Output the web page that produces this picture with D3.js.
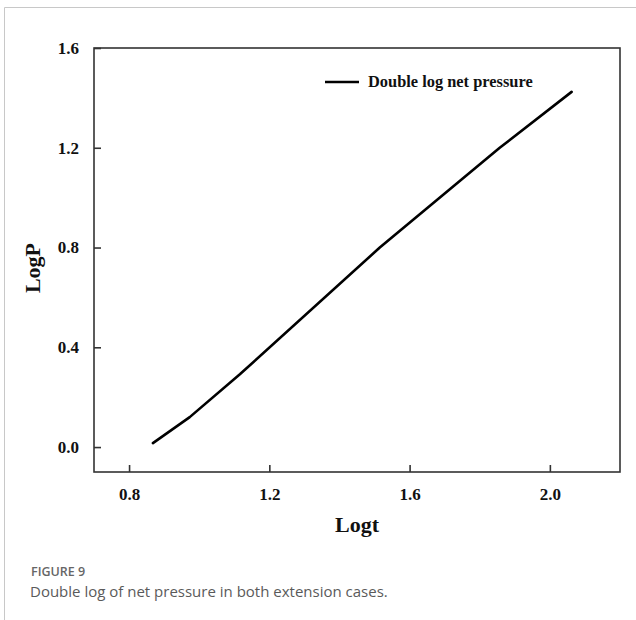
<!DOCTYPE html>
<html>
<head>
<meta charset="utf-8">
<script src="https://cdn.jsdelivr.net/npm/d3@7"></script>
<style>
  html, body { margin: 0; padding: 0; background: #fff; }
  svg { display: block; }
</style>
</head>
<body>
<script>
// Double-log net pressure curve: log10(t) against log10(P)
const logT = [0.868, 0.973, 1.116, 1.515, 1.857, 2.062];
const logP = [0.016, 0.120, 0.292, 0.800, 1.200, 1.424];
const xTicks = [0.8, 1.2, 1.6, 2.0];
const yTicks = [0.0, 0.4, 0.8, 1.2, 1.6];
const seriesName = "Double log net pressure";
const figLabel = "FIGURE 9";
const figCaption = "Double log of net pressure in both extension cases.";

const W = 636, H = 620;
const plot = { left: 94, right: 620, top: 48, bottom: 472 };

const svg = d3.select("body").append("svg")
  .attr("width", W).attr("height", H);

// figure panel border (top and left edges)
svg.append("path")
  .attr("d", `M4.5,${H} V7.5 H${W}`)
  .attr("fill", "none").attr("stroke", "#c8c8c8").attr("stroke-width", 1);

const x = d3.scaleLinear().domain([0.7, 2.2]).range([plot.left, plot.right]);
const y = d3.scaleLinear().domain([-0.1, 1.6]).range([plot.bottom, plot.top]);

const serif = "'Liberation Serif', 'Times New Roman', serif";

// plot frame
svg.append("rect")
  .attr("x", plot.left).attr("y", plot.top)
  .attr("width", plot.right - plot.left).attr("height", plot.bottom - plot.top)
  .attr("fill", "none").attr("stroke", "#333").attr("stroke-width", 1.6);

// axes with inward ticks
const xAxis = d3.axisBottom(x).tickValues(xTicks).tickFormat(d3.format(".1f"))
  .tickSizeInner(-7).tickSizeOuter(0).tickPadding(16);
const gx = svg.append("g").attr("transform", `translate(0,${plot.bottom})`).call(xAxis);

const yAxis = d3.axisLeft(y).tickValues(yTicks).tickFormat(d3.format(".1f"))
  .tickSizeInner(-7).tickSizeOuter(0).tickPadding(15);
const gy = svg.append("g").attr("transform", `translate(${plot.left},0)`).call(yAxis);

[gx, gy].forEach(g => {
  g.select(".domain").remove();
  g.selectAll(".tick line").attr("stroke", "#333").attr("stroke-width", 1.6);
  g.selectAll(".tick text")
    .attr("fill", "#111")
    .style("font-family", serif).style("font-weight", "bold").style("font-size", "17px");
});
gx.selectAll(".tick text").attr("dy", "0.71em");

// axis titles
svg.append("text")
  .attr("x", (plot.left + plot.right) / 2).attr("y", 532)
  .attr("text-anchor", "middle")
  .style("font-family", serif).style("font-weight", "bold").style("font-size", "22px")
  .attr("fill", "#111").text("Logt");

svg.append("text")
  .attr("transform", "translate(40,268) rotate(-90)")
  .attr("text-anchor", "middle")
  .style("font-family", serif).style("font-weight", "bold").style("font-size", "22px")
  .attr("fill", "#111").text("LogP");

// data line
const line = d3.line().x((d, i) => x(logT[i])).y(d => y(d));
svg.append("path")
  .datum(logP)
  .attr("d", line)
  .attr("fill", "none").attr("stroke", "#000").attr("stroke-width", 2.6)
  .attr("stroke-linejoin", "round").attr("stroke-linecap", "round");

// legend
const lg = svg.append("g").attr("transform", "translate(325,82)");
lg.append("line").attr("x1", 0).attr("x2", 34).attr("y1", 0).attr("y2", 0)
  .attr("stroke", "#000").attr("stroke-width", 2.6);
lg.append("text").attr("x", 43).attr("y", 5)
  .style("font-family", serif).style("font-weight", "bold").style("font-size", "16.4px")
  .attr("fill", "#111").text(seriesName);

// caption
const sans = "'Open Sans', 'Noto Sans', sans-serif";
svg.append("text").attr("x", 31).attr("y", 576)
  .style("font-family", sans).style("font-size", "12.5px").style("font-weight", 600)
  .attr("fill", "#666").text(figLabel);
svg.append("text").attr("x", 30).attr("y", 597)
  .style("font-family", sans).style("font-size", "15px")
  .attr("fill", "#5a5a5a").text(figCaption);
</script>
</body>
</html>
